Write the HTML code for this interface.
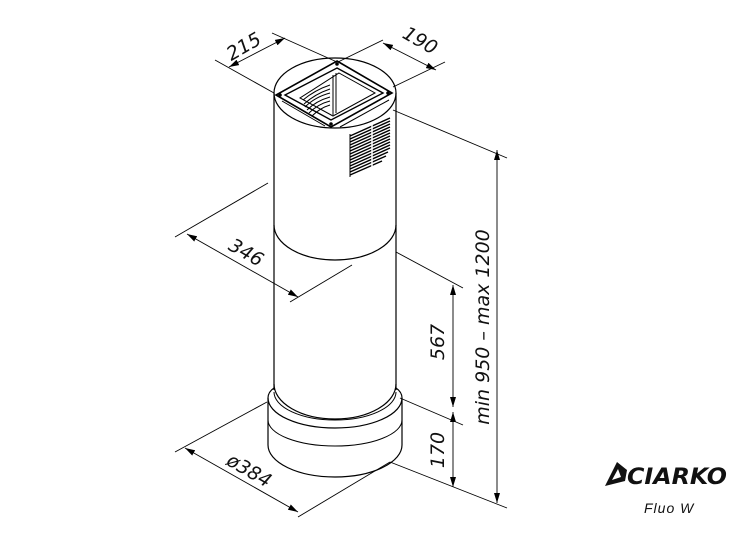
<!DOCTYPE html>
<html><head><meta charset="utf-8"><style>
html,body{margin:0;padding:0;background:#fff;width:750px;height:536px;overflow:hidden}
svg{display:block}
text{font-family:"DejaVu Sans","Liberation Sans",sans-serif;font-style:italic;fill:#111}
</style></head><body>
<svg width="750" height="536" viewBox="0 0 750 536" xmlns="http://www.w3.org/2000/svg">
<defs>
<marker id="a" viewBox="0 0 10 6" refX="10" refY="3" markerWidth="10" markerHeight="6" orient="auto-start-reverse" markerUnits="userSpaceOnUse"><path d="M0,0 L10,3 L0,6z" fill="#000"/></marker>
</defs>
<g fill="none" stroke="#000" stroke-width="1.2">
<ellipse cx="335" cy="93" rx="61" ry="35"/>
<line x1="274" y1="93" x2="274" y2="390"/>
<line x1="396" y1="93" x2="396" y2="390"/>
<path d="M274,225 A61,35 0 0 0 396,225"/>
<path d="M274,384 A61,35 0 0 0 396,384"/>
<path d="M274,388 Q268,392 268,398 L268,445 A67,32 0 0 0 402,445 L402,398 Q402,392 396,388"/>
<path d="M268,398 A67,30 0 0 0 402,398"/>
<path d="M274,392 A61,28 0 0 0 396,392" stroke-width="1"/>
<path d="M268,420 A67,26 0 0 0 402,420" stroke-width="1"/>
<polygon points="337,61 392,93 331,127 276,95" stroke-width="1.6"/>
<polygon points="337,68 383,93 331,120 285,95" stroke-width="1.4"/>
<polygon points="339,73 375,93 333,116 300,98" stroke-width="1"/>
<line x1="333" y1="75" x2="333" y2="115" stroke-width="1"/>
<line x1="336" y1="73" x2="336" y2="113" stroke-width="1"/>
<g stroke-width="1">
<path d="M303,100 Q315,90 330,85"/><path d="M304,104 Q315,94 330,89"/><path d="M305,107 Q315,97 330,93"/>
<path d="M307,110 Q316,101 330,97"/><path d="M309,113 Q318,104 330,101"/><path d="M312,116 Q320,108 330,105"/>
</g>
<line x1="282" y1="101" x2="325" y2="126" stroke-width="1"/>
<line x1="389" y1="100" x2="340" y2="127" stroke-width="1"/>
<g stroke-width="1.4">
<line x1="350" y1="136" x2="390" y2="118"/><line x1="350" y1="139" x2="390" y2="121"/>
<line x1="350" y1="142" x2="390" y2="124"/><line x1="350" y1="145" x2="390" y2="127"/>
<line x1="350" y1="148" x2="390" y2="130"/><line x1="350" y1="151" x2="390" y2="133"/>
<line x1="350" y1="154" x2="390" y2="136"/><line x1="350" y1="157" x2="390" y2="139"/>
<line x1="350" y1="160" x2="390" y2="142"/><line x1="350" y1="163" x2="390" y2="145"/>
<line x1="350" y1="166" x2="390" y2="148"/><line x1="350" y1="169" x2="388" y2="152"/>
<line x1="350" y1="172" x2="386" y2="156"/><line x1="350" y1="175" x2="382" y2="161"/>
</g>
<line x1="350" y1="134" x2="350" y2="177" stroke-width="1"/><line x1="372" y1="125" x2="372" y2="167" stroke-width="1.5" stroke="#fff"/>
</g>
<g fill="#000">
<circle cx="337" cy="64" r="1.8"/><circle cx="388" cy="93" r="1.8"/><circle cx="331" cy="124" r="1.8"/><circle cx="280" cy="95" r="1.8"/>
</g>
<g fill="none" stroke="#000" stroke-width="0.9">
<line x1="215" y1="60" x2="274" y2="93"/>
<line x1="272" y1="33" x2="337" y2="62"/>
<line x1="229" y1="67" x2="285" y2="38" marker-start="url(#a)" marker-end="url(#a)"/>
<line x1="383" y1="40" x2="338" y2="62"/>
<line x1="393" y1="87" x2="445" y2="62"/>
<line x1="383" y1="43" x2="436" y2="70" marker-start="url(#a)" marker-end="url(#a)"/>
<line x1="393" y1="110" x2="507" y2="158"/>
<line x1="390" y1="462" x2="507" y2="508"/>
<line x1="497" y1="150" x2="497" y2="503" marker-start="url(#a)" marker-end="url(#a)"/>
<line x1="396" y1="252" x2="463" y2="288"/>
<line x1="400" y1="398" x2="463" y2="425"/>
<line x1="453" y1="285" x2="453" y2="407" marker-start="url(#a)" marker-end="url(#a)"/>
<line x1="453" y1="412" x2="453" y2="487" marker-start="url(#a)" marker-end="url(#a)"/>
<line x1="268" y1="183" x2="175" y2="237"/>
<line x1="290" y1="302" x2="352" y2="265"/>
<line x1="187" y1="234" x2="298" y2="297" marker-start="url(#a)" marker-end="url(#a)"/>
<line x1="267" y1="402" x2="175" y2="452"/>
<line x1="298" y1="517" x2="390" y2="462"/>
<line x1="185" y1="448" x2="298" y2="512" marker-start="url(#a)" marker-end="url(#a)"/>
</g>
<g font-size="19">
<text transform="translate(247,52) rotate(-30)" text-anchor="middle">215</text>
<text transform="translate(417,46) rotate(30)" text-anchor="middle">190</text>
<text transform="translate(243,258) rotate(30)" text-anchor="middle">346</text>
<text transform="translate(246,476) rotate(30)" text-anchor="middle">ø384</text>
<text transform="translate(444,342) rotate(-90)" text-anchor="middle">567</text>
<text transform="translate(444,450) rotate(-90)" text-anchor="middle">170</text>
<text transform="translate(489,327) rotate(-90)" text-anchor="middle">min 950 – max 1200</text>
</g>
<path d="M605,486 L617,462 L627,470 L625,481 Z M612,480 L618,469 L621,477 Z" fill="#111" fill-rule="evenodd"/>
<text x="627" y="484" font-size="22" font-weight="900" textLength="100" lengthAdjust="spacingAndGlyphs" style="font-family:'DejaVu Sans',sans-serif">CIARKO</text>
<text x="644" y="513" font-size="14" letter-spacing="1" style="font-family:'Liberation Sans',sans-serif">Fluo  W</text>
</svg>
</body></html>
